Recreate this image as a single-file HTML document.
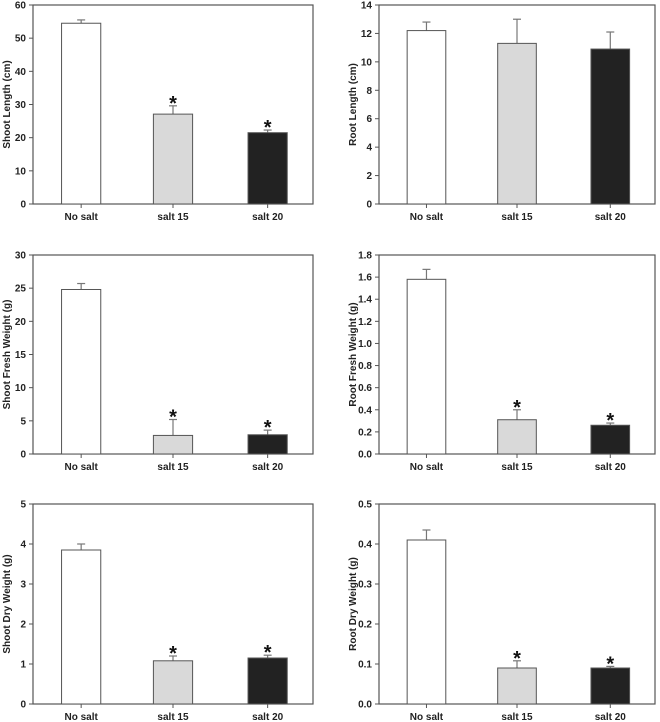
<!DOCTYPE html>
<html><head><meta charset="utf-8">
<style>
html,body{margin:0;padding:0;background:#fff;}
svg{display:block;font-family:"Liberation Sans",Arial,sans-serif;}
</style></head>
<body>
<svg id="fig" width="660" height="722" viewBox="0 0 660 722"></svg>
<script>
const categories = ["No salt","salt 15","salt 20"];
const shootLength = [54.5, 27.1, 21.5];
const shootLengthErr = [1.0, 2.5, 0.8];
const rootLength = [12.2, 11.3, 10.9];
const rootLengthErr = [0.6, 1.7, 1.2];
const shootFresh = [24.8, 2.8, 2.9];
const shootFreshErr = [0.9, 2.4, 0.7];
const rootFresh = [1.58, 0.31, 0.26];
const rootFreshErr = [0.09, 0.09, 0.02];
const shootDry = [3.85, 1.08, 1.15];
const shootDryErr = [0.15, 0.12, 0.07];
const rootDry = [0.41, 0.09, 0.09];
const rootDryErr = [0.025, 0.018, 0.004];
const sigStars = [false, true, true];
const noStars = [false, false, false];
const ticksSL = ["0","10","20","30","40","50","60"];
const ticksRL = ["0","2","4","6","8","10","12","14"];
const ticksSF = ["0","5","10","15","20","25","30"];
const ticksRF = ["0.0","0.2","0.4","0.6","0.8","1.0","1.2","1.4","1.6","1.8"];
const ticksSD = ["0","1","2","3","4","5"];
const ticksRD = ["0.0","0.1","0.2","0.3","0.4","0.5"];
const barFills = ["#ffffff","#d9d9d9","#222222"];

const NS="http://www.w3.org/2000/svg";
const svg=document.getElementById('fig');
function mk(tag,attrs,parent){const e=document.createElementNS(NS,tag);for(const k in attrs)e.setAttribute(k,attrs[k]);(parent||svg).appendChild(e);return e;}

function panel(name,x0,x1,y0,y1,ticks,title,vals,errs,stars){
  const g=mk('g',{});
  
  
  const tv=ticks.map(Number);
  const ymax=tv[tv.length-1];
  const ys=v=>y1-(v/ymax)*(y1-y0);
  const w=x1-x0;
  const xc=i=>x0+w*[0.172,0.5,0.838][i];
  const bw=w*0.14;
  const frame=mk('rect',{x:x0,y:y0,width:w,height:y1-y0,fill:'none',stroke:'#555','stroke-width':1.2},g);
  
  
  ticks.forEach((t,i)=>{
    const y=ys(tv[i]);
    mk('line',{x1:x0-4,x2:x0,y1:y,y2:y,stroke:'#555'},g);
    const tx=mk('text',{x:x0-7,y:y+3.5,'text-anchor':'end','font-size':10,'font-weight':'bold',fill:'#222'},g);
    tx.textContent=t;
    
    
  });
  const yt=mk('text',{transform:`translate(${x0-23},${(y0+y1)/2}) rotate(-90)`,'text-anchor':'middle','font-size':10,'font-weight':'bold',fill:'#222'},g);
  yt.textContent=title;
  
  
  categories.forEach((c,i)=>{
    const cx=xc(i);
    mk('line',{x1:cx,x2:cx,y1:y1,y2:y1+4,stroke:'#555'},g);
    const lb=mk('text',{x:cx,y:y1+16,'text-anchor':'middle','font-size':10,'font-weight':'bold',fill:'#222'},g);
    lb.textContent=c;
    
    
    const top=ys(vals[i]);
    const et=ys(vals[i]+errs[i]);
    const el=mk('line',{x1:cx,x2:cx,y1:top,y2:et,stroke:'#777','stroke-width':1.2},g);
    
    
    mk('line',{x1:cx-4,x2:cx+4,y1:et,y2:et,stroke:'#777','stroke-width':1.2},g);
    const b=mk('rect',{x:cx-bw/2,y:top,width:bw,height:y1-top,fill:barFills[i],stroke:'#555','stroke-width':1},g);
    
    
    if(stars[i]){
      const s=mk('text',{x:cx,y:et+4,'text-anchor':'middle','font-size':20,'font-weight':'bold',fill:'#111'},g);
      s.textContent='*';
      
      
    }
  });
}
panel('shoot-length-chart',33,313,5,204,ticksSL,'Shoot Length (cm)',shootLength,shootLengthErr,sigStars);
panel('root-length-chart',379,655,5,204,ticksRL,'Root Length (cm)',rootLength,rootLengthErr,noStars);
panel('shoot-fresh-weight-chart',33,313,255,454,ticksSF,'Shoot Fresh Weight (g)',shootFresh,shootFreshErr,sigStars);
panel('root-fresh-weight-chart',379,655,255,454,ticksRF,'Root Fresh Weight (g)',rootFresh,rootFreshErr,sigStars);
panel('shoot-dry-weight-chart',33,313,504,704,ticksSD,'Shoot Dry Weight (g)',shootDry,shootDryErr,sigStars);
panel('root-dry-weight-chart',379,655,504,704,ticksRD,'Root Dry Weight (g)',rootDry,rootDryErr,sigStars);
</script>
</body></html>
